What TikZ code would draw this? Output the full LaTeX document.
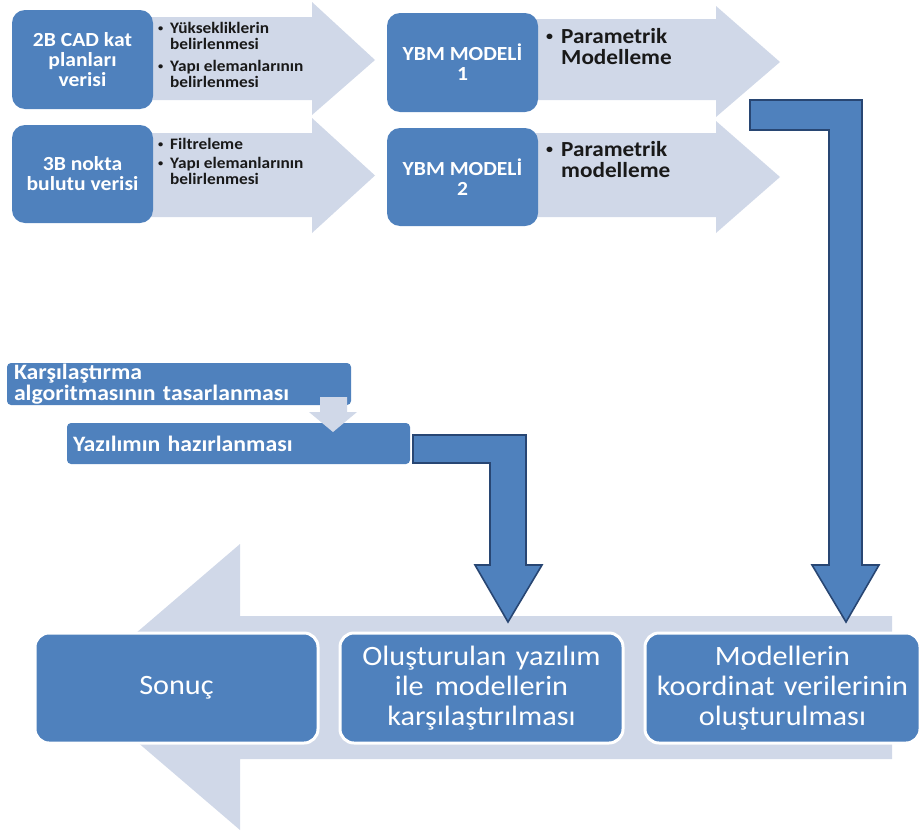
\documentclass[tikz,border=0pt]{standalone}
\usepackage{fontspec}
\usepackage{graphicx}
\setmainfont[FakeStretch=1.08]{Carlito}
\definecolor{boxblue}{RGB}{79,129,189}
\definecolor{lightband}{RGB}{208,216,232}
\definecolor{darkline}{RGB}{40,70,115}
\definecolor{textdark}{RGB}{25,25,25}
\newcommand{\smbul}[1]{\makebox[#1][l]{\raisebox{0.22ex}{\scalebox{0.6}{\textbullet}}}}
\begin{document}
\begin{tikzpicture}[x=1pt,y=-1pt,
  lightarrow/.style={fill=lightband},
  darrow/.style={fill=boxblue, draw=darkline, line width=1.6pt, line join=miter},
  topbox/.style={fill=boxblue, rounded corners=13pt, text=white, align=center, inner sep=0pt,
     font=\bfseries\fontsize{20}{20}\selectfont},
  midbox/.style={fill=boxblue, rounded corners=4pt, text=white, align=left, inner ysep=0pt,
     font=\bfseries\fontsize{22}{21}\selectfont},
  botbox/.style={fill=boxblue, draw=white, line width=3pt, rounded corners=14pt, text=white,
     align=center, inner sep=0pt, text width=270pt, font=\fontsize{28}{30}\selectfont},
  sbul/.style={anchor=base west, inner sep=0pt, text=textdark, font=\bfseries\fontsize{16}{16}\selectfont},
  lbul/.style={anchor=base west, inner sep=0pt, text=textdark, font=\bfseries\fontsize{21.5}{21}\selectfont}]
\useasboundingbox (0,0) rectangle (923,835);

% light arrows, top rows
\fill[lightarrow] (140,17) -- (312,17) -- (312,2) -- (375,60) -- (312,115) -- (312,100) -- (140,100) -- cycle;
\fill[lightarrow] (140,133) -- (312,133) -- (312,118) -- (375,175.5) -- (312,233) -- (312,217) -- (140,217) -- cycle;
\fill[lightarrow] (525,19) -- (716,19) -- (716,6) -- (780,62) -- (716,117) -- (716,100) -- (525,100) -- cycle;
\fill[lightarrow] (525,133) -- (716,133) -- (716,121) -- (780,177) -- (716,233) -- (716,217) -- (525,217) -- cycle;

% top boxes
\node[topbox, minimum width=141pt, minimum height=99pt] (cad) at (82.5,59.5) {2B CAD kat\\planları\\verisi};
\node[topbox, minimum width=141pt, minimum height=98pt] (nokta) at (82.5,174) {3B nokta\\bulutu verisi};
\node[topbox, minimum width=151pt, minimum height=99pt] (ybm1) at (462.5,62.5) {YBM MODELİ\\1};
\node[topbox, minimum width=151pt, minimum height=98pt] (ybm2) at (462.5,177) {YBM MODELİ\\2};

% bullet texts
\node[sbul] (t1a) at (158,33) {\smbul{12pt}Yüksekliklerin};
\node[sbul] (t1b) at (170,49) {belirlenmesi};
\node[sbul] (t1c) at (158,71) {\smbul{12pt}Yapı elemanlarının};
\node[sbul] (t1d) at (170,87) {belirlenmesi};
\node[sbul] (t2a) at (158,149) {\smbul{12pt}Filtreleme};
\node[sbul] (t2b) at (158,168) {\smbul{12pt}Yapı elemanlarının};
\node[sbul] (t2c) at (170,184) {belirlenmesi};
\node[lbul] (t3a) at (546,43) {\smbul{15pt}Parametrik};
\node[lbul] (t3b) at (561,64) {Modelleme};
\node[lbul] (t4a) at (546,156) {\smbul{15pt}Parametrik};
\node[lbul] (t4b) at (561,177) {modelleme};

% middle boxes
\node[midbox, inner xsep=7pt, text width=330pt, minimum height=42pt] (karsi) at (179,384)
  {Karşılaştırma\\algoritmasının tasarlanması};
\node[midbox, inner xsep=6pt, text width=331pt, minimum height=41pt] (yaz) at (238.5,443.5)
  {Yazılımın hazırlanması};
\fill[lightarrow] (320,397) -- (347,397) -- (347,412) -- (357,412) -- (333,432) -- (309,412) -- (320,412) -- cycle;

% bottom band arrow
\fill[lightarrow] (892,616) -- (240,616) -- (240,544) -- (73,687) -- (240,830) -- (240,759) -- (892,759) -- cycle;

% bent arrows
\draw[darrow] (413,435) -- (526,435) -- (526,565) -- (542,565) -- (508,622) -- (475,565) -- (490,565) -- (490,463) -- (413,463) -- cycle;
\draw[darrow] (750,100) -- (862,100) -- (862,565) -- (879,565) -- (846,622) -- (812,565) -- (829,565) -- (829,130) -- (750,130) -- cycle;

% bottom boxes
\node[botbox, minimum width=283pt, minimum height=110pt] (sonuc) at (176.5,688) {Sonuç};
\node[botbox, minimum width=283pt, minimum height=110pt] (olus) at (481.5,688)
  {Oluşturulan yazılım\\ile\hspace{11pt}modellerin\\karşılaştırılması};
\node[botbox, minimum width=275pt, minimum height=110pt] (model) at (782.5,688)
  {Modellerin\\koordinat verilerinin\\oluşturulması};
\end{tikzpicture}
\end{document}
